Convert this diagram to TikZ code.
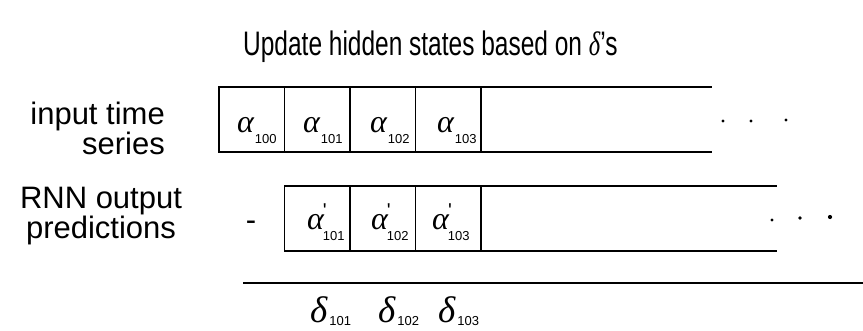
\documentclass[tikz,border=0pt]{standalone}
\usepackage{fontspec}
\setmainfont{Liberation Sans}
\newfontfamily\grk{Liberation Serif}
\newcommand{\subf}{\fontsize{13}{13}\selectfont}
\newcommand{\alab}[2]{{\grk\itshape α}#1\kern1pt\raisebox{-11pt}{\subf #2}}
\newcommand{\pr}{\raisebox{12pt}{\fontsize{20}{20}\selectfont\kern-1pt\textquotesingle\kern-5pt}}
\newcommand{\dlab}[1]{{\grk\itshape δ}\kern2pt\raisebox{-3pt}{\subf #1}}
\tikzset{
  cell/.style={draw, line width=1.3pt, minimum width=65.5pt, minimum height=65pt, inner sep=0pt, outer sep=0pt},
  rail/.style={line width=1.3pt},
  base/.style={line width=1.8pt},
  sym/.style={inner sep=0pt, anchor=base west, font=\fontsize{32}{32}\selectfont},
  dsym/.style={inner sep=0pt, anchor=base west, font=\fontsize{37}{37}\selectfont},
  lbl/.style={inner sep=0pt, font=\fontsize{31}{28}\selectfont},
  dot/.style={fill=black}
}
\begin{document}
\begin{tikzpicture}[x=1pt,y=-1pt]
\useasboundingbox (0,0) rectangle (863,330);
% title
\node[inner sep=0pt, anchor=base west, font=\fontsize{34}{34}\selectfont] (title) at (243,55) {\scalebox{0.72}[1]{Update hidden states based on {\grk\itshape δ}'s}};
% left labels
\node[lbl, align=right, anchor=east] (in) at (165,128) {input time\\series};
\node[lbl, align=center] (rnn) at (101,216) {RNN output\\predictions};
% row 1 cells
\node[cell] (a100) at (251.75,119.5) {};
\node[cell] (a101) at (317.25,119.5) {};
\node[cell] (a102) at (382.75,119.5) {};
\node[cell] (a103) at (448.25,119.5) {};
\coordinate (r1t) at (712,87);
\coordinate (r1b) at (712,152);
\draw[rail] (a103.north east) -- (r1t);
\draw[rail] (a103.south east) -- (r1b);
\node[sym] (l100) at (237,132) {\alab{}{100}};
\node[sym] (l101) at (303,132) {\alab{}{101}};
\node[sym] (l102) at (370,132) {\alab{}{102}};
\node[sym] (l103) at (437,132) {\alab{}{103}};
\fill[dot] (723,121) circle (1.7);
\fill[dot] (751,121) circle (1.7);
\fill[dot] (786,120) circle (1.7);
% row 2 cells
\node[lbl] (dash) at (251,226) {-};
\node[cell] (b101) at (317.25,218.5) {};
\node[cell] (b102) at (382.75,218.5) {};
\node[cell] (b103) at (448.25,218.5) {};
\coordinate (r2t) at (777,186);
\coordinate (r2b) at (777,251);
\draw[rail] (b103.north east) -- (r2t);
\draw[rail] (b103.south east) -- (r2b);
\node[sym] (m101) at (307,229) {\alab{\pr}{101}};
\node[sym] (m102) at (371,229) {\alab{\pr}{102}};
\node[sym] (m103) at (432,229) {\alab{\pr}{103}};
\fill[dot] (772,220) circle (1.6);
\fill[dot] (800,218) circle (1.8);
\fill[dot] (830,217) circle (2.1);
% bottom line
\coordinate (bl) at (243,283);
\coordinate (br) at (863,283);
\draw[base] (bl) -- (br);
\node[dsym] (d101) at (310,322) {\dlab{101}};
\node[dsym] (d102) at (378,322) {\dlab{102}};
\node[dsym] (d103) at (438,322) {\dlab{103}};
\end{tikzpicture}
\end{document}
